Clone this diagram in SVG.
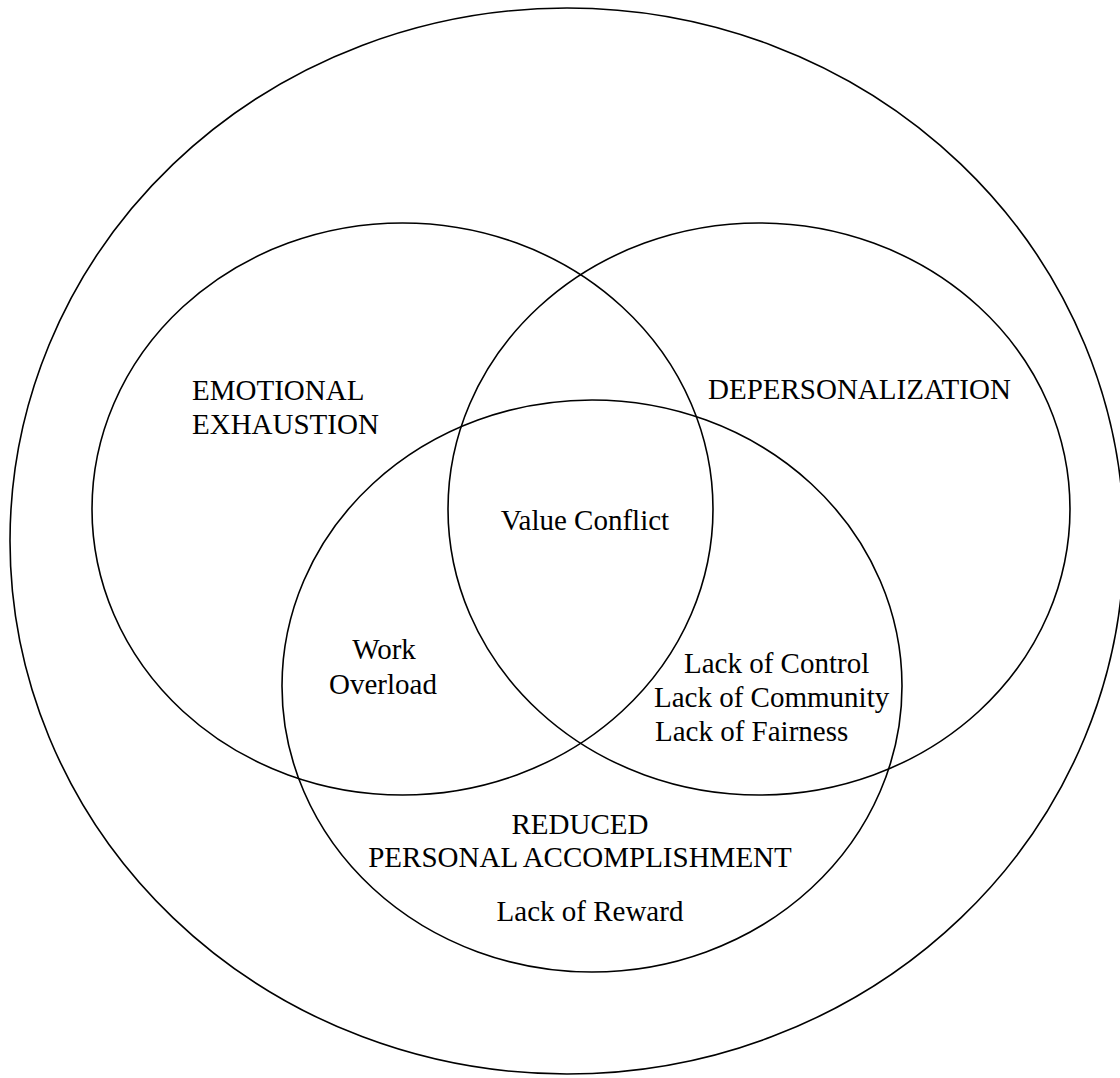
<svg xmlns="http://www.w3.org/2000/svg" width="1120" height="1078" viewBox="0 0 1120 1078">
<style>
.c{fill:none;stroke:#000;stroke-width:1.6}
.t{font-family:"Liberation Serif","Times New Roman",serif;font-size:29px;fill:#000}
.m{text-anchor:middle}
</style>
<rect width="1120" height="1078" fill="#fff"/>
<g id="outer"><ellipse class="c" cx="567" cy="541" rx="557" ry="533"/></g>
<g id="emotional-exhaustion">
<ellipse class="c" cx="402.5" cy="509" rx="310.5" ry="286"/>
<text class="t" x="192" y="400">EMOTIONAL</text>
<text class="t" x="192" y="434">EXHAUSTION</text>
</g>
<g id="depersonalization">
<ellipse class="c" cx="759" cy="509" rx="311" ry="286"/>
<text class="t" x="708" y="399">DEPERSONALIZATION</text>
</g>
<g id="reduced-personal-accomplishment">
<ellipse class="c" cx="592" cy="686" rx="310" ry="286"/>
<text class="t m" x="580" y="834">REDUCED</text>
<text class="t m" x="580" y="867">PERSONAL ACCOMPLISHMENT</text>
<text class="t m" x="590" y="921">Lack of Reward</text>
</g>
<g id="value-conflict"><text class="t m" x="585" y="530">Value Conflict</text></g>
<g id="work-overload">
<text class="t m" x="384" y="659">Work</text>
<text class="t m" x="383" y="694">Overload</text>
</g>
<g id="lack-group">
<text class="t" x="684" y="673">Lack of Control</text>
<text class="t" x="654" y="707">Lack of Community</text>
<text class="t" x="655" y="741">Lack of Fairness</text>
</g>
<g id="connectors"></g>
</svg>
